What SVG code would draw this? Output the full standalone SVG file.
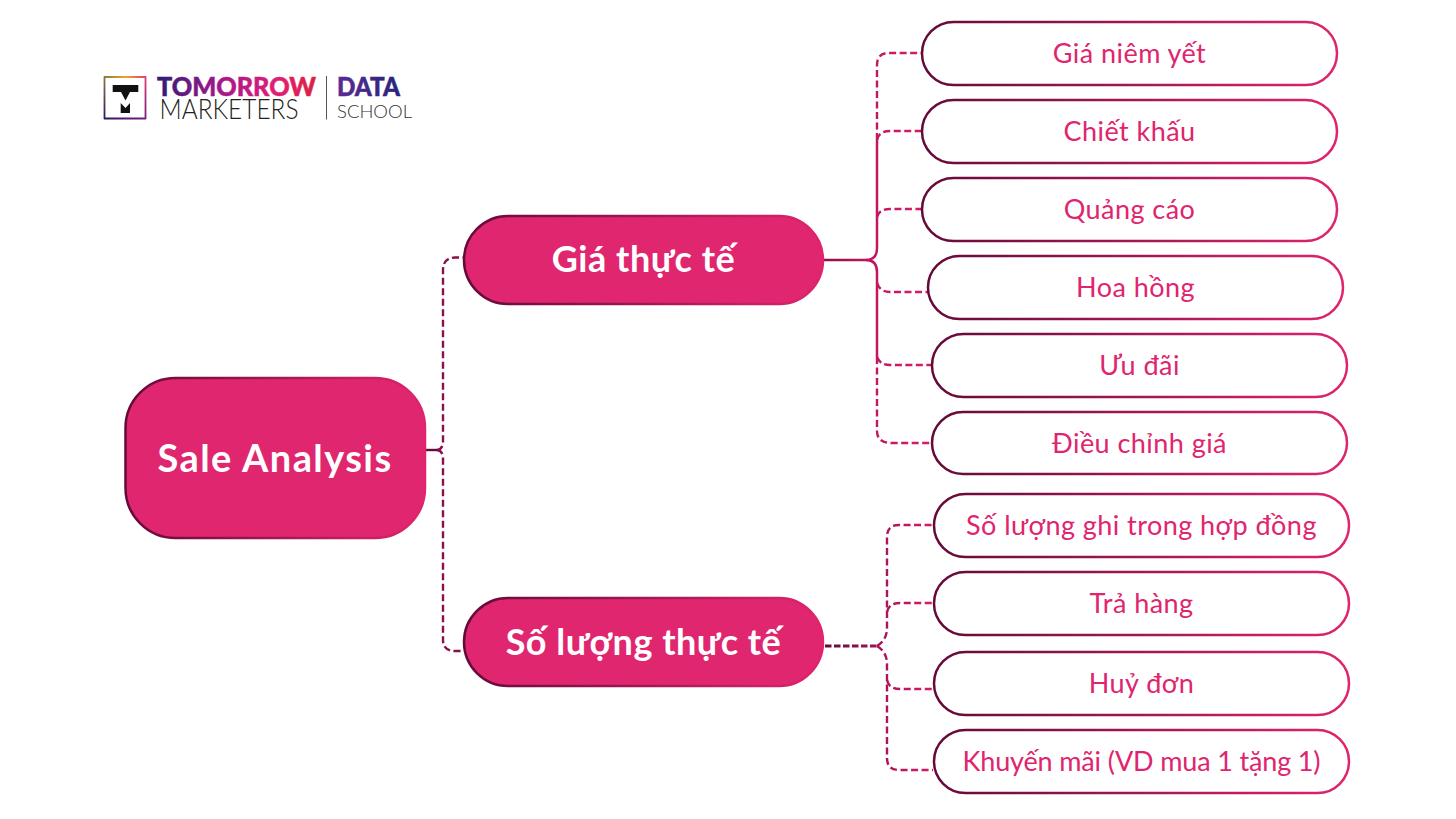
<svg xmlns="http://www.w3.org/2000/svg" width="1456" height="819" viewBox="0 0 1456 819">
<defs>
<linearGradient id="edge" x1="0" y1="0" x2="1" y2="0"><stop offset="0" stop-color="#640a38"/><stop offset="1" stop-color="#e0246e"/></linearGradient>
<linearGradient id="g1" gradientUnits="userSpaceOnUse" x1="823" y1="0" x2="922" y2="0"><stop offset="0" stop-color="#8a0f4c"/><stop offset="0.5" stop-color="#c2155f"/><stop offset="1" stop-color="#d81b66"/></linearGradient>
<linearGradient id="g2" gradientUnits="userSpaceOnUse" x1="825" y1="0" x2="933" y2="0"><stop offset="0" stop-color="#640a38"/><stop offset="0.5" stop-color="#a81256"/><stop offset="1" stop-color="#d81b66"/></linearGradient>
<linearGradient id="tm" gradientUnits="userSpaceOnUse" x1="157" y1="0" x2="316" y2="0"><stop offset="0" stop-color="#2f1c78"/><stop offset="0.4" stop-color="#a6178a"/><stop offset="0.75" stop-color="#e01e78"/><stop offset="1" stop-color="#dc2040"/></linearGradient>
<linearGradient id="da" gradientUnits="userSpaceOnUse" x1="337" y1="0" x2="400" y2="0"><stop offset="0" stop-color="#5a2a96"/><stop offset="1" stop-color="#26257a"/></linearGradient>
<linearGradient id="ft" gradientUnits="userSpaceOnUse" x1="104" y1="0" x2="146" y2="0"><stop offset="0" stop-color="#8a7a40"/><stop offset="0.5" stop-color="#e8a828"/><stop offset="1" stop-color="#e03c78"/></linearGradient>
<linearGradient id="fs" gradientUnits="userSpaceOnUse" x1="0" y1="76" x2="0" y2="119"><stop offset="0" stop-color="#8a7a40"/><stop offset="1" stop-color="#2a1a60"/></linearGradient>
<linearGradient id="fe" gradientUnits="userSpaceOnUse" x1="0" y1="76" x2="0" y2="119"><stop offset="0" stop-color="#e03c78"/><stop offset="1" stop-color="#7a1a80"/></linearGradient>
<linearGradient id="fb" gradientUnits="userSpaceOnUse" x1="104" y1="0" x2="146" y2="0"><stop offset="0" stop-color="#2a1a60"/><stop offset="1" stop-color="#7a1a80"/></linearGradient>
</defs>
<style>
text{font-family:"Lato","Noto Sans",sans-serif;text-anchor:middle}
.leaf rect{fill:#fff;stroke:url(#edge);stroke-width:2.5}
.leaf text{fill:#e0246e;font-size:27px;font-weight:400;letter-spacing:.45px}
.hub rect{fill:#e0266f;stroke:url(#edge);stroke-width:2.5}
.hub text{fill:#fff;font-size:36px;font-weight:700;letter-spacing:.5px}
#root text{font-size:38px;letter-spacing:1.4px}
#l10 text{letter-spacing:-.15px}
#connectors path{fill:none;stroke-width:2.4}
.d1{stroke:url(#g1);stroke-dasharray:7 3.5}
.s1{stroke:url(#g1)}
.d2{stroke:url(#g2);stroke-dasharray:7 3.5}
.r{stroke:#8a0f4c;stroke-dasharray:7 3.5}
.fr{fill:none;stroke-width:1.8}
.lg{stroke-width:.5px}
</style>
<rect width="1456" height="819" fill="#fff"/>
<g id="connectors">
<path d="M425 450H437"  style="stroke:#640a38"/>
<path class="r" d="M437 450Q443 449 443 442V270Q443 258 455 257.500H464"/>
<path class="r" d="M437 450Q443 451 443 458V640Q443 651 455 651H464"/>
<path d="M823 260H866Q877 260 877 248V140" class="s1" style="stroke-width:2.500"/>
<path class="d1" d="M877 140V65Q877 53 889 53H922"/>
<path class="d1" d="M877 140Q879 131 890 131H922"/>
<path class="d1" d="M877 217Q879 209 890 209H922"/>
<path d="M866 260Q877 260 877 272V357" class="s1" style="stroke-width:2.500"/>
<path class="d1" d="M877 283Q880 292 890 292H928"/>
<path class="d1" d="M877 357Q880 365 890 365H932"/>
<path class="d1" d="M877 357V431Q877 443 892 443H932"/>
<path d="M825 646H877" style="stroke:url(#g2);stroke-width:3.2;stroke-dasharray:6.500 2.500"/>
<path class="d2" d="M877 646Q887 640 887 628V537Q887 525 899 525H933"/>
<path class="d2" d="M887 612Q889 603 900 603H933"/>
<path class="d2" d="M877 646Q887 652 887 664V758Q887 770 899 770H933"/>
<path class="d2" d="M887 680Q889 689 900 689H933"/>
</g>
<g id="logo">
<path class="fr" stroke="url(#ft)" d="M104 77H146"/>
<path class="fr" stroke="url(#fe)" d="M145.500 76.500V119"/>
<path class="fr" stroke="url(#fb)" d="M146 118.500H104"/>
<path class="fr" stroke="url(#fs)" d="M104.500 119V76.500"/>
<path d="M112.700 85H138.300V92H130L125.500 100.500L121 92H112.700Z" fill="#111"/>
<path d="M120.700 113V103L125.500 108L130 103V113Z" fill="#111"/>
<text class="lg" x="236.500" y="96" style="font-size:26.500px;font-weight:900;fill:url(#tm);stroke:url(#tm)" textLength="159" lengthAdjust="spacingAndGlyphs">TOMORROW</text>
<text x="229" y="118.500" style="font-size:26.500px;font-weight:300;fill:#222" textLength="139" lengthAdjust="spacingAndGlyphs">MARKETERS</text>
<rect x="326" y="76" width="1" height="43.500" fill="#555"/>
<text class="lg" x="368.500" y="96" style="font-size:26.500px;font-weight:900;fill:url(#da);stroke:url(#da)" textLength="63" lengthAdjust="spacingAndGlyphs">DATA</text>
<text x="374.500" y="118" style="font-size:18px;font-weight:300;fill:#333" textLength="75" lengthAdjust="spacingAndGlyphs">SCHOOL</text>
</g>
<g id="root" class="hub"><rect x="125.500" y="378" width="299.500" height="160" rx="50"/><text x="275" y="472">Sale Analysis</text></g>
<g id="gia" class="hub"><rect x="464" y="216" width="359" height="88" rx="44"/><text x="643.500" y="272">Giá thực tế</text></g>
<g id="soluong" class="hub"><rect x="464" y="598" width="359" height="88" rx="44"/><text x="643.500" y="655">Số lượng thực tế</text></g>
<g id="l1" class="leaf"><rect x="922" y="22" width="415" height="63" rx="31.500"/><text x="1129.500" y="63">Giá niêm yết</text></g>
<g id="l2" class="leaf"><rect x="922" y="100" width="415" height="63" rx="31.500"/><text x="1129.500" y="141">Chiết khấu</text></g>
<g id="l3" class="leaf"><rect x="922" y="178" width="415" height="63" rx="31.500"/><text x="1129.500" y="219">Quảng cáo</text></g>
<g id="l4" class="leaf"><rect x="928" y="256" width="415" height="63" rx="31.500"/><text x="1135.500" y="297">Hoa hồng</text></g>
<g id="l5" class="leaf"><rect x="932" y="334" width="415" height="63" rx="31.500"/><text x="1139.500" y="375">Ưu đãi</text></g>
<g id="l6" class="leaf"><rect x="932" y="412" width="415" height="62" rx="31"/><text x="1139.500" y="453">Điều chỉnh giá</text></g>
<g id="l7" class="leaf"><rect x="934" y="494" width="415" height="63" rx="31.500"/><text x="1141.500" y="535">Số lượng ghi trong hợp đồng</text></g>
<g id="l8" class="leaf"><rect x="934" y="572" width="415" height="63" rx="31.500"/><text x="1141.500" y="613">Trả hàng</text></g>
<g id="l9" class="leaf"><rect x="934" y="652" width="415" height="63" rx="31.500"/><text x="1141.500" y="693">Huỷ đơn</text></g>
<g id="l10" class="leaf"><rect x="934" y="730" width="415" height="63" rx="31.500"/><text x="1141.500" y="771">Khuyến mãi (VD mua 1 tặng 1)</text></g>
</svg>
